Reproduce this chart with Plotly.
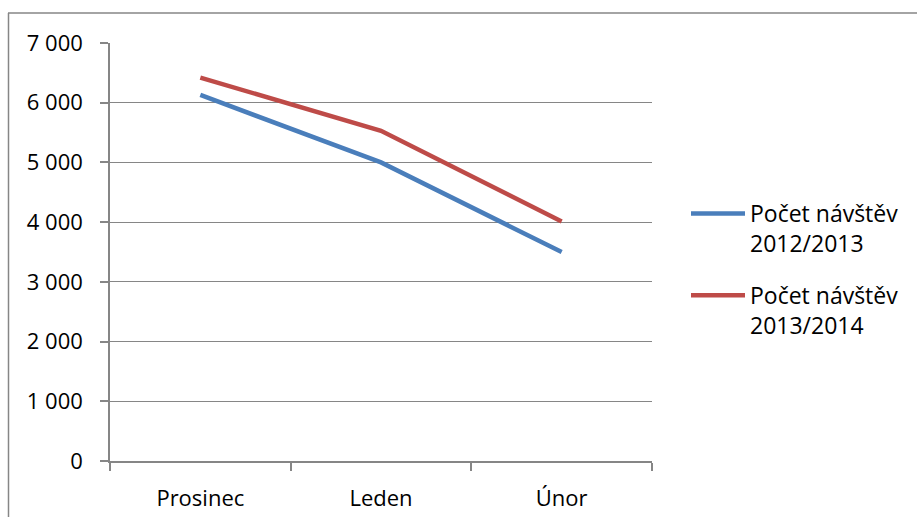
import plotly.graph_objects as go

categories = ["Prosinec", "Leden", "Únor"]
visits_2012_2013 = [6130, 5000, 3500]
visits_2013_2014 = [6420, 5530, 4010]
series_names = ["Počet návštěv<br>2012/2013", "Počet návštěv<br>2013/2014"]
y_ticks = [0, 1000, 2000, 3000, 4000, 5000, 6000, 7000]
y_tick_labels = ["0", "1 000", "2 000", "3 000", "4 000", "5 000", "6 000", "7 000"]

BLUE = "#4A7EBB"
RED = "#BE4B48"
GRID = "#868686"
FONT = "Open Sans"
FS = 22

fig = go.Figure()
fig.add_trace(go.Scatter(x=categories, y=visits_2012_2013, mode="lines", name=series_names[0],
                         line=dict(color=BLUE, width=4.5), legendgroup="a"))
fig.add_trace(go.Scatter(x=categories, y=visits_2013_2014, mode="lines", name=series_names[1],
                         line=dict(color=RED, width=4.5), legendgroup="b"))

W, H = 917, 517
L, R, T, B = 110, 652, 43, 461

def px(x):
    return (x - L) / (R - L)

def py(y):
    return (B - y) / (B - T)

fig.update_layout(
    width=W, height=H, autosize=False,
    margin=dict(l=L, r=W - R, t=T, b=H - B, pad=0, autoexpand=False),
    paper_bgcolor="white", plot_bgcolor="white",
    font=dict(family=FONT, size=FS, color="black"),
    showlegend=True,
    legend=dict(x=px(686), y=py(192), xanchor="left", yanchor="top",
                valign="top", tracegroupgap=19, itemwidth=54,
                font=dict(family=FONT, size=23, color="black"),
                bgcolor="rgba(0,0,0,0)"),
    xaxis=dict(type="category", showgrid=False, showline=True, linecolor=GRID, linewidth=1.5,
               ticks="outside", tickson="boundaries", ticklen=8, tickcolor=GRID, tickwidth=1.5,
               range=[-0.5, 2.5], ticklabelstandoff=17, zeroline=False, automargin=False),
    yaxis=dict(range=[0, 7000], tickvals=y_ticks, ticktext=y_tick_labels,
               showgrid=True, gridcolor=GRID, gridwidth=1.2,
               showline=True, linecolor=GRID, linewidth=1.5,
               ticks="outside", ticklen=8, tickcolor=GRID, tickwidth=1.5,
               ticklabelstandoff=13, zeroline=False, automargin=False),
    shapes=[
        dict(type="line", xref="paper", yref="paper", x0=px(8), x1=px(930), y0=py(13), y1=py(13),
             line=dict(color=GRID, width=1.5)),
        dict(type="line", xref="paper", yref="paper", x0=px(8.5), x1=px(8.5), y0=py(13), y1=py(530),
             line=dict(color=GRID, width=1.5)),
    ],
)

fig.write_html("out.html", config={"displayModeBar": False},
               post_script="document.body.style.margin='0';document.body.style.overflow='hidden';")
